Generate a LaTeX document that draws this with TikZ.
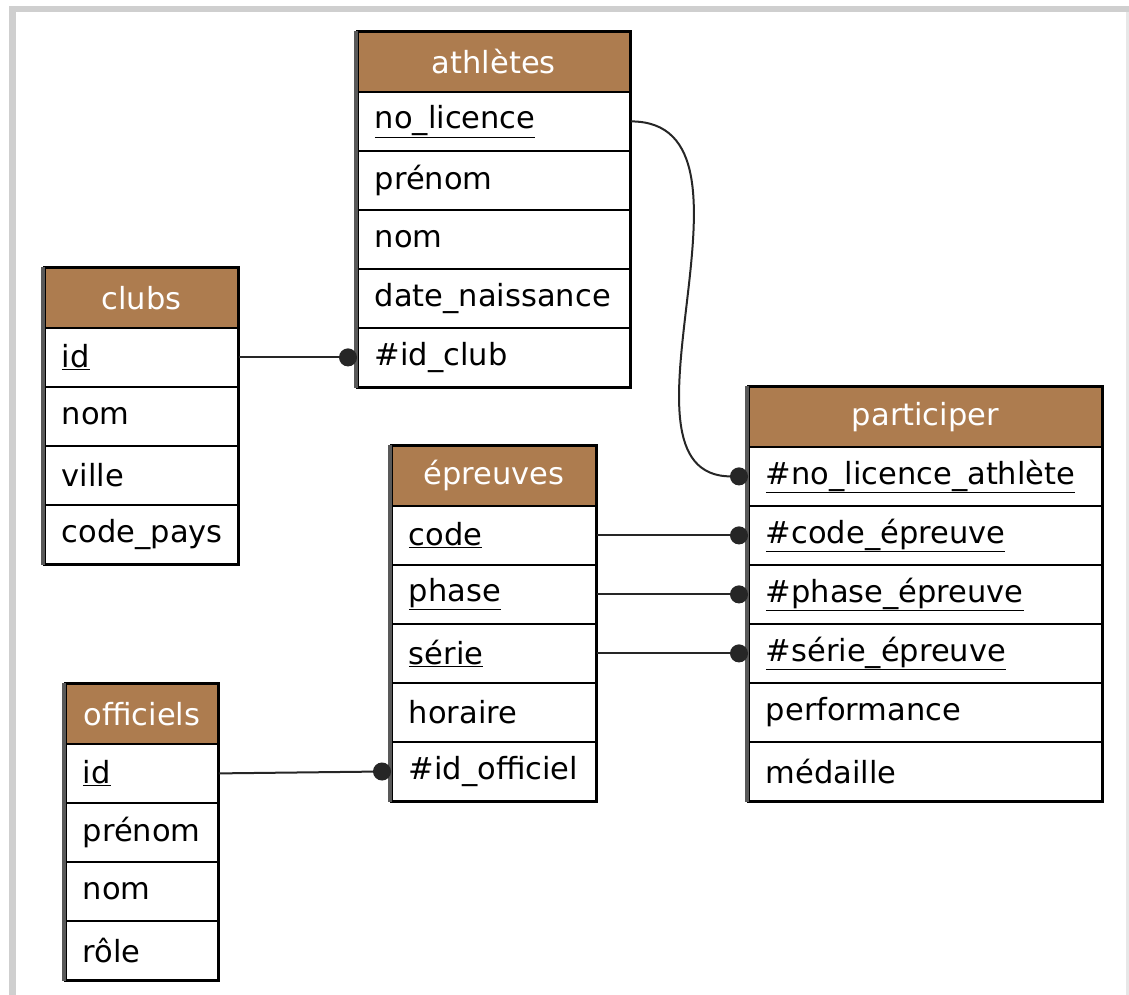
\documentclass[tikz,border=0pt]{standalone}
\usepackage{fontspec}
\setmainfont{DejaVu Sans}
\usetikzlibrary{arrows.meta,positioning}

\definecolor{headbrown}{RGB}{173,124,79}
\definecolor{framegray}{RGB}{207,207,207}

% one table: name, x, y, width, title, fields
\newcommand{\entity}[6]{%
	\pgfmathsetmacro\fieldw{#4-34}
	\node[head, minimum width=#4] at (#2,#3) (#1-0) {#5};
	\foreach \f [count=\i] in {#6}{
		\node[field, minimum width=#4, text width=\fieldw pt] at (#2,#3+1+59*\i) (#1-\i) {\f};
		\xdef\lastrow{\i}
	}
	\draw[tablebox] (#1-0.north west) rectangle (#1-\lastrow.south east);
	\draw[tableshade] ([xshift=-1pt]#1-0.north west) -- ([xshift=-1pt]#1-\lastrow.south west);
}

\begin{document}
\begin{tikzpicture}[x=1pt,y=-1pt]
		\tikzset{head/.style={draw=black, line width=1.8pt,
				fill=headbrown, text=white,
				anchor=north west, minimum height=60,
				inner sep=0pt,
				font=\fontsize{30.5}{36}\selectfont},
			field/.style={draw=black, line width=1.8pt,
				fill=white, anchor=north west,
				minimum height=59, inner xsep=17pt, inner ysep=0pt,
				align=left,
				font=\fontsize{30.5}{36}\selectfont},
			tablebox/.style={draw=black, line width=2.6pt},
			tableshade/.style={draw=black!65, line width=4pt},
			link/.style={draw=black!85, line width=2pt, -{Circle[length=18pt]}}}
		
		\useasboundingbox (0,0) rectangle (1129,995);
		
		% Frame
		\fill[framegray] (9,6) rectangle (1129,12);
		\fill[framegray] (9,6) rectangle (16,995);
		\fill[framegray!50] (1126,12) rectangle (1129,995);
		
		% Draw the tables
		\entity{ath}{357}{31}{272}{athlètes}{\underline{no\_licence},prénom,nom,date\_naissance,\#id\_club}
		\entity{clubs}{44}{267}{193}{clubs}{\underline{id},nom,ville,code\_pays}
		\entity{epr}{391}{445}{204}{épreuves}{\underline{code},\underline{phase},\underline{série},horaire,\#id\_officiel}
		\entity{par}{748}{386}{353}{participer}{\underline{\#no\_licence\_athlète},\underline{\#code\_épreuve},\underline{\#phase\_épreuve},\underline{\#série\_épreuve},performance,médaille}
		\entity{off}{65}{683}{152}{officiels}{\underline{id},prénom,nom,rôle}
		
		% Connect the keys
		\draw[link] (ath-1.east) .. controls +(150,0) and +(-150,0) .. (par-1.west);
		\draw[link] (clubs-1.east) -- (ath-5.west);
		\draw[link] (epr-1.east) -- (par-2.west);
		\draw[link] (epr-2.east) -- (par-3.west);
		\draw[link] (epr-3.east) -- (par-4.west);
		\draw[link] (off-1.east) -- (epr-5.west);
		
\end{tikzpicture}
\end{document}
